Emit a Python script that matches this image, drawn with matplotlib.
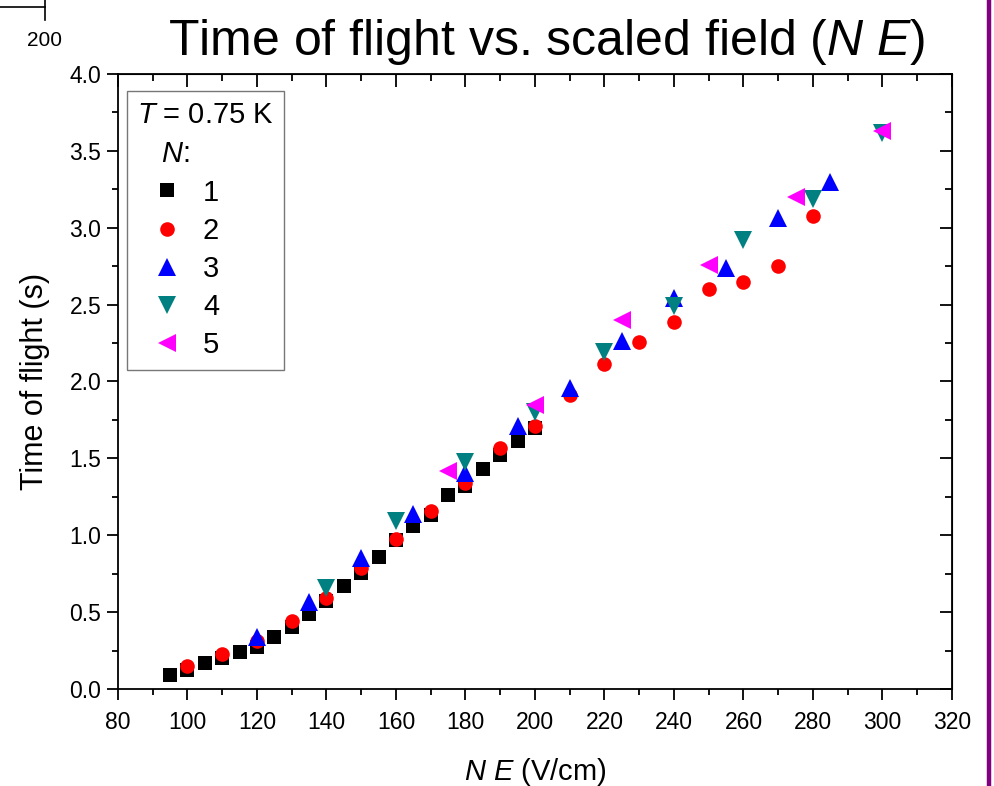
import matplotlib
matplotlib.use('Agg')
import matplotlib.pyplot as plt
from matplotlib.ticker import MultipleLocator, FormatStrFormatter
from matplotlib.lines import Line2D

plt.rcParams['font.family'] = ['Liberation Sans', 'DejaVu Sans']
plt.rcParams['mathtext.fontset'] = 'custom'
plt.rcParams['mathtext.rm'] = 'Liberation Sans'
plt.rcParams['mathtext.it'] = 'Liberation Sans:italic'

# data (N E in V/cm, time of flight in s)
x1 = [95, 100, 105, 110, 115, 120, 125, 130, 135, 140, 145, 150, 155, 160, 165,
      170, 175, 180, 185, 190, 195, 200]
y1 = [0.09, 0.125, 0.17, 0.20, 0.24, 0.275, 0.34, 0.405, 0.485, 0.57, 0.67,
      0.755, 0.86, 0.97, 1.06, 1.13, 1.26, 1.32, 1.43, 1.52, 1.615, 1.70]

x2 = [100, 110, 120, 130, 140, 150, 160, 170, 180, 190, 200, 210, 220, 230,
      240, 250, 260, 270, 280]
y2 = [0.15, 0.225, 0.31, 0.445, 0.595, 0.79, 0.975, 1.155, 1.34, 1.565, 1.71,
      1.915, 2.115, 2.255, 2.39, 2.60, 2.65, 2.75, 3.075]

x3 = [120, 135, 150, 165, 180, 195, 210, 225, 240, 255, 270, 285]
y3 = [0.335, 0.565, 0.85, 1.135, 1.405, 1.71, 1.96, 2.265, 2.545, 2.735, 3.06, 3.30]

x4 = [140, 160, 180, 200, 220, 240, 260, 280, 300]
y4 = [0.655, 1.09, 1.475, 1.80, 2.195, 2.49, 2.92, 3.19, 3.615]

x5 = [175, 200, 225, 250, 275, 300]
y5 = [1.42, 1.845, 2.40, 2.76, 3.20, 3.63]

labels = ['1', '2', '3', '4', '5']

fig = plt.figure(figsize=(9.94, 7.86), dpi=100)
ax = fig.add_axes([0.1187, 0.1234, 0.839, 0.7825])

ax.plot(x1, y1, 's', color='black', ms=9.5, mew=0, label=labels[0])
ax.plot(x2, y2, 'o', color='red', ms=10.5, mew=0, label=labels[1])
ax.plot(x3, y3, '^', color='blue', ms=13, mew=0, label=labels[2])
ax.plot(x4, y4, 'v', color='#008080', ms=13, mew=0, label=labels[3])
ax.plot(x5, y5, '<', color='magenta', ms=13, mew=0, label=labels[4])

ax.set_xlim(80, 320)
ax.set_ylim(0, 4.0)
ax.xaxis.set_major_locator(MultipleLocator(20))
ax.xaxis.set_minor_locator(MultipleLocator(10))
ax.yaxis.set_major_locator(MultipleLocator(0.5))
ax.yaxis.set_minor_locator(MultipleLocator(0.25))
ax.yaxis.set_major_formatter(FormatStrFormatter('%.1f'))
ax.tick_params(which='both', direction='out', width=1.3, labelsize=16.5)
ax.tick_params(axis='x', pad=7.5)
ax.tick_params(axis='y', pad=4)
ax.tick_params(which='major', length=8)
ax.tick_params(which='minor', length=4.5)
for s in ax.spines.values():
    s.set_linewidth(1.3)

# mirrored axes with inward ticks
top = ax.secondary_xaxis('top')
top.xaxis.set_major_locator(MultipleLocator(20))
top.xaxis.set_minor_locator(MultipleLocator(10))
top.tick_params(which='both', direction='in', width=1.3, labeltop=False)
top.tick_params(which='major', length=9)
top.tick_params(which='minor', length=5)
right = ax.secondary_yaxis('right')
right.yaxis.set_major_locator(MultipleLocator(0.5))
right.yaxis.set_minor_locator(MultipleLocator(0.25))
right.tick_params(which='both', direction='in', width=1.3, labelright=False)
right.tick_params(which='major', length=9)
right.tick_params(which='minor', length=5)

ax.set_xlabel('$N$ $E$ (V/cm)', fontsize=21, labelpad=16)
ax.set_ylabel('Time of flight (s)', fontsize=22, labelpad=14)
ax.set_title('Time of flight vs. scaled field ($N$ $E$)', fontsize=36, pad=14,
             x=0.514)

leg = ax.legend(title='$T$ = 0.75 K\n   $N$:', loc='upper left',
                bbox_to_anchor=(0.011, 0.972), borderaxespad=0, fontsize=21,
                title_fontsize=21, frameon=True, fancybox=False,
                edgecolor='#555555', handletextpad=0.25, labelspacing=0.35,
                borderpad=0.35, handlelength=2.0)
leg.get_frame().set_linewidth(1.0)
leg.get_title().set_linespacing(1.5)
leg._legend_box.align = 'left'

# stray bits of the neighbouring panel visible at the edges of the image
fig.add_artist(Line2D([0, 0.0453], [0.9915, 0.9915], color='black', lw=1.2))
fig.add_artist(Line2D([0.0453, 0.0453], [0.975, 1.0], color='black', lw=1.2))
fig.text(0.0443, 0.949, '200', fontsize=15, ha='center', va='center')
fig.add_artist(Line2D([0.9945, 0.9945], [0, 1], color='#800080', lw=3.2))

fig.savefig('out.png', dpi=100)
